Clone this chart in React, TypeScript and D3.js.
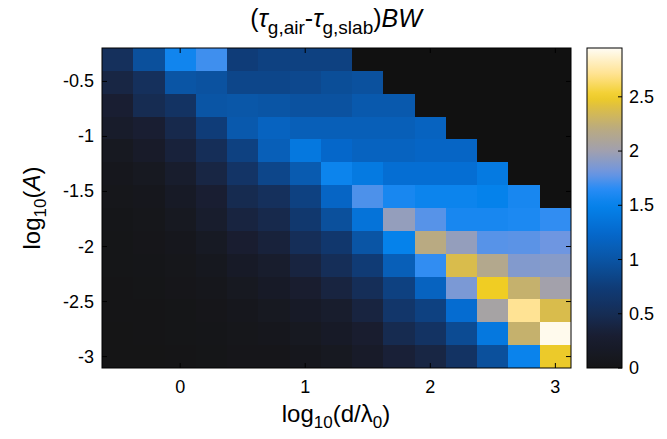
import React from "react";
import * as d3 from "d3";

// x centres: log10(d/lambda0), y centres: log10(A)
const xCenters = [-0.5, -0.25, 0, 0.25, 0.5, 0.75, 1, 1.25, 1.5, 1.75, 2, 2.25, 2.5, 2.75, 3];
const yCenters = d3.range(14).map((i) => -0.3 - (i * 2.7) / 13); // top row first
const N = NaN;
// rows from top (log10 A = -0.3) to bottom (log10 A = -3)
const values: number[][] = [
  [0.55, 0.95, 1.55, 1.7, 0.75, 0.8, 0.8, 0.8, N, N, N, N, N, N, N],
  [0.4, 0.55, 1.0, 0.97, 0.85, 0.85, 0.87, 0.93, 0.96, N, N, N, N, N, N],
  [0.3, 0.48, 0.6, 1.0, 1.02, 1.0, 0.97, 0.97, 1.05, 1.05, N, N, N, N, N],
  [0.22, 0.3, 0.45, 0.75, 1.05, 1.17, 1.12, 1.12, 1.12, 1.12, 1.17, N, N, N, N],
  [0.12, 0.2, 0.35, 0.52, 0.8, 1.12, 1.4, 1.23, 1.17, 1.17, 1.2, 1.2, N, N, N],
  [0.08, 0.12, 0.25, 0.4, 0.62, 0.85, 1.07, 1.53, 1.42, 1.3, 1.3, 1.3, 1.42, N, N],
  [0.05, 0.08, 0.17, 0.3, 0.47, 0.55, 0.8, 1.2, 1.73, 1.58, 1.53, 1.53, 1.5, 1.58, N],
  [0.03, 0.05, 0.12, 0.25, 0.38, 0.45, 0.68, 0.95, 1.35, 1.95, 1.75, 1.58, 1.58, 1.6, 1.67],
  [0.02, 0.04, 0.08, 0.15, 0.28, 0.35, 0.52, 0.67, 1.0, 1.5, 2.2, 1.95, 1.75, 1.76, 1.8],
  [0.02, 0.03, 0.05, 0.1, 0.18, 0.25, 0.38, 0.52, 0.73, 1.12, 1.67, 2.38, 2.15, 1.88, 1.9],
  [0.01, 0.02, 0.04, 0.06, 0.12, 0.18, 0.27, 0.38, 0.52, 0.8, 1.17, 1.85, 2.5, 2.27, 2.02],
  [0.01, 0.01, 0.02, 0.04, 0.08, 0.12, 0.18, 0.25, 0.38, 0.65, 0.8, 1.28, 2.05, 2.72, 2.38],
  [0.0, 0.01, 0.02, 0.03, 0.05, 0.07, 0.12, 0.18, 0.27, 0.47, 0.6, 0.9, 1.4, 2.27, 2.93],
  [0.0, 0.0, 0.01, 0.02, 0.04, 0.04, 0.07, 0.12, 0.2, 0.33, 0.4, 0.6, 0.95, 1.52, 2.48],
];
const xTicks = [0, 1, 2, 3];
const yTicks = [-3, -2.5, -2, -1.5, -1, -0.5];
const cbTicks = [0, 0.5, 1, 1.5, 2, 2.5];
const cmapStops = [0, 0.3, 0.5, 0.75, 1.0, 1.25, 1.5, 1.65, 1.8, 2.0, 2.2, 2.4, 2.5, 2.7, 2.95];
const cmapColors = [
  "#151516", "#191e32", "#162d55", "#0f3c78", "#0a55a5", "#0569cd", "#0582eb",
  "#288cf5", "#6e96e1", "#a0a0af", "#b9aa82", "#dcbe46", "#f0cd23", "#ffe18c", "#fffcf5",
];

const W = 667, H = 439;
const L = 102, R = 571, T = 48, B = 368;
const cbL = 587, cbR = 622;
const font = "'Liberation Sans', Arial, Helvetica, sans-serif";

export default function App() {
  const dx = 0.25;
  const dy = 2.7 / 13;
  const x = d3.scaleLinear().domain([xCenters[0] - dx / 2, xCenters[xCenters.length - 1] + dx / 2]).range([L, R]);
  const y = d3.scaleLinear().domain([-3 - dy / 2, -0.3 + dy / 2]).range([B, T]);
  const color = d3.scaleLinear<string>().domain(cmapStops).range(cmapColors).interpolate(d3.interpolateRgb).clamp(true);
  const cb = d3.scaleLinear().domain([0, 2.95]).range([B, T]);

  const cells: React.ReactElement[] = [];
  values.forEach((row, j) => {
    row.forEach((v, i) => {
      const x0 = Math.round(x(xCenters[i] - dx / 2));
      const x1 = Math.round(x(xCenters[i] + dx / 2));
      const y0 = Math.round(y(yCenters[j] + dy / 2));
      const y1 = Math.round(y(yCenters[j] - dy / 2));
      cells.push(
        <rect key={`${i}-${j}`} x={x0} y={y0} width={x1 - x0} height={y1 - y0}
          fill={isNaN(v) ? "#111111" : color(v)} shapeRendering="crispEdges" />
      );
    });
  });

  const gradStops = d3.range(0, 1.0001, 0.02).map((t) => ({ t, c: color(t * 2.95) }));
  const tl = 5;
  return (
    <svg width={W} height={H} style={{ position: "absolute", left: 0, top: 0, background: "#fff" }}>
      <defs>
        <linearGradient id="cbg" x1="0" y1="1" x2="0" y2="0">
          {gradStops.map((s) => (
            <stop key={s.t} offset={s.t} stopColor={s.c} />
          ))}
        </linearGradient>
      </defs>
      {cells}
      <rect x={L} y={T} width={R - L} height={B - T} fill="none" stroke="#000" strokeWidth={1} />
      {xTicks.map((t) => (
        <g key={`xt${t}`}>
          <line x1={x(t)} x2={x(t)} y1={B} y2={B - tl} stroke="#000" />
          <line x1={x(t)} x2={x(t)} y1={T} y2={T + tl} stroke="#000" />
          <text x={x(t)} y={B + 25} textAnchor="middle" fontFamily={font} fontSize={18}>{t}</text>
        </g>
      ))}
      {yTicks.map((t) => (
        <g key={`yt${t}`}>
          <line x1={L} x2={L + tl} y1={y(t)} y2={y(t)} stroke="#000" />
          <line x1={R} x2={R - tl} y1={y(t)} y2={y(t)} stroke="#000" />
          <text x={L - 8} y={y(t) + 6} textAnchor="end" fontFamily={font} fontSize={18}>{t}</text>
        </g>
      ))}
      {/* colorbar */}
      <rect x={cbL} y={T} width={cbR - cbL} height={B - T} fill="url(#cbg)" stroke="#000" strokeWidth={1} />
      {cbTicks.map((t) => (
        <g key={`cb${t}`}>
          <line x1={cbR} x2={cbR - 4} y1={cb(t)} y2={cb(t)} stroke="#000" />
          <text x={cbR + 7} y={cb(t) + 6} fontFamily={font} fontSize={18}>{t}</text>
        </g>
      ))}
      {/* title */}
      <text x={336} y={27} textAnchor="middle" fontFamily={font} fontSize={25}>
        <tspan>(</tspan>
        <tspan fontStyle="italic">τ</tspan>
        <tspan fontSize={19} dy={7}>g,air</tspan>
        <tspan dy={-7}>-</tspan>
        <tspan fontStyle="italic">τ</tspan>
        <tspan fontSize={19} dy={7}>g,slab</tspan>
        <tspan dy={-7}>)</tspan>
        <tspan fontStyle="italic">BW</tspan>
      </text>
      {/* x label */}
      <text x={336} y={422} textAnchor="middle" fontFamily={font} fontSize={24}>
        <tspan>log</tspan>
        <tspan fontSize={17} dy={6}>10</tspan>
        <tspan dy={-6}>(d/λ</tspan>
        <tspan fontSize={17} dy={6}>0</tspan>
        <tspan dy={-6}>)</tspan>
      </text>
      {/* y label */}
      <text transform={`translate(40, ${(T + B) / 2}) rotate(-90)`} textAnchor="middle" fontFamily={font} fontSize={24}>
        <tspan>log</tspan>
        <tspan fontSize={17} dy={6}>10</tspan>
        <tspan dy={-6}>(</tspan>
        <tspan fontStyle="italic">A</tspan>
        <tspan>)</tspan>
      </text>
    </svg>
  );
}
